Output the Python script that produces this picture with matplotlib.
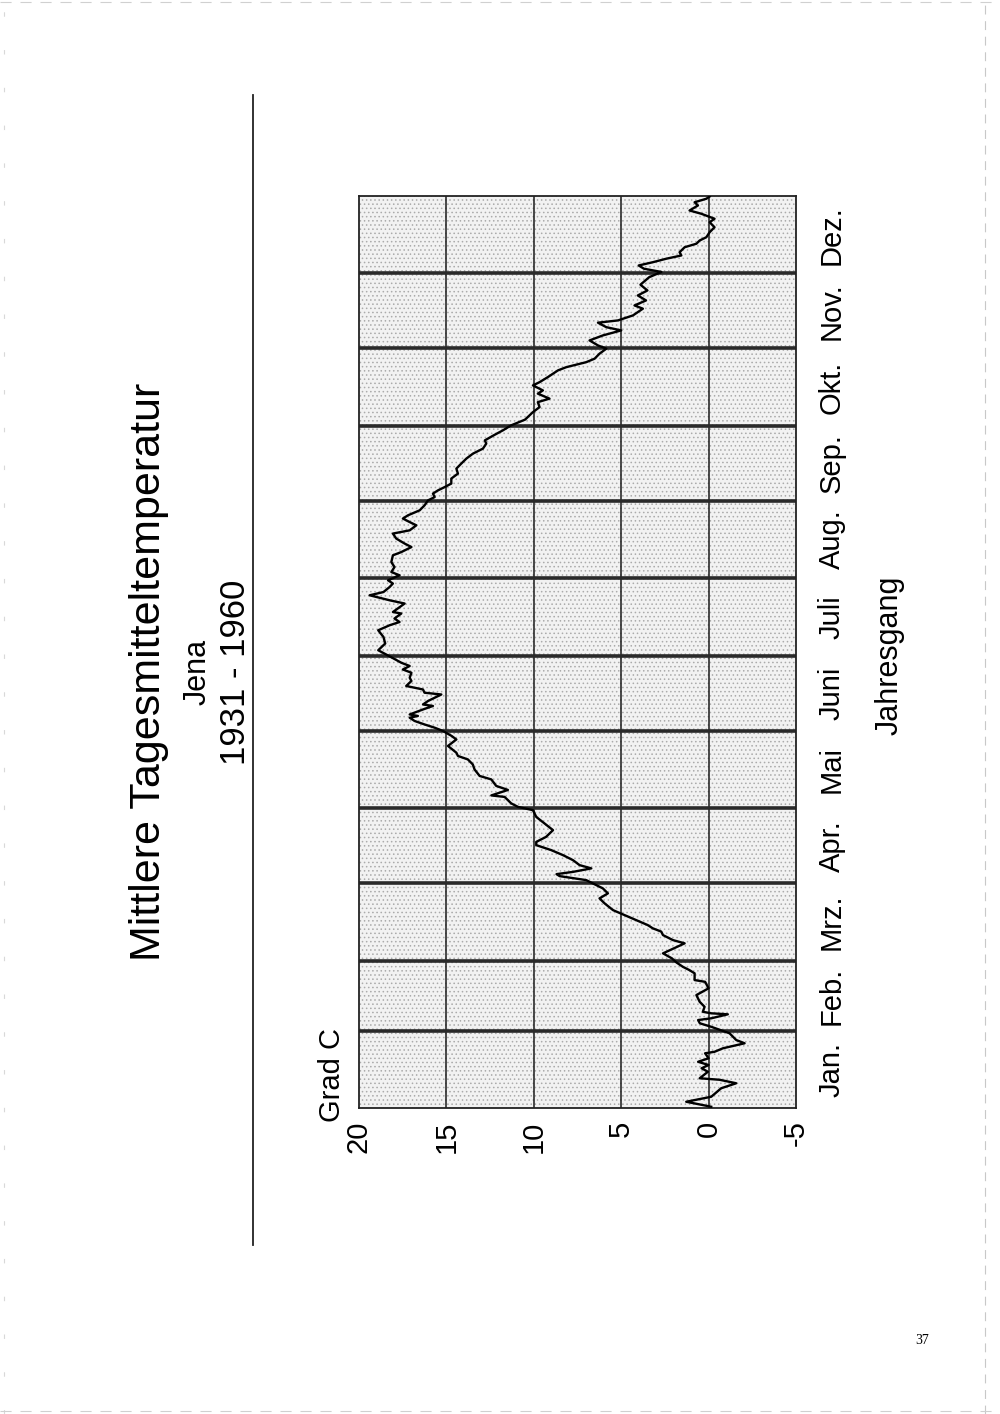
import numpy as np
import matplotlib
matplotlib.use('Agg')
import matplotlib.pyplot as plt
from matplotlib.patches import Rectangle
from matplotlib.lines import Line2D
from matplotlib.transforms import blended_transform_factory

# Tagesmittel Jena 1931-1960 (Tag im Jahr, Grad C)
day = [0.5, 2.5, 4.5, 7.9, 9.9, 11.3, 11.9, 14.5, 15.9, 17.2, 18.5, 19.9, 21.9, 22.5,
       23.9, 25.9, 27.2, 29.9, 32.5, 33.9, 35.2, 35.9, 37.5, 37.9, 38.5, 40.5, 42.5,
       45.2, 47.9, 50.5, 51.2, 53.9, 55.2, 56.5, 58.3, 59.9, 61.9, 62.5, 65.9, 67.2,
       69.2, 70.6, 71.9, 73.2, 75.2, 77.2, 79.2, 81.9, 83.9, 85.9, 87.9, 89.9, 91.2,
       92.8, 93.6, 94.5, 95.9, 97.2, 99.2, 101.2, 103.2, 105.2, 106.5, 108.5, 111.2,
       114.5, 116.5, 119.2, 120.5, 121.9, 124.5, 125.1, 127.3, 128.9, 131.5, 132.9,
       135.5, 137.5, 139.5, 140.9, 142.2, 144.9, 147.5, 148.9, 150.9, 152.2, 153.5,
       154.9, 156.2, 156.9, 157.5, 159.5, 160.9, 161.5, 162.9, 165.5, 166.2, 167.5,
       168.9, 170.9, 172.2, 174.2, 175.5, 176.9, 178.2, 180.2, 183.2, 185.9, 188.5,
       191.2, 193.2, 194.5, 195.9, 197.9, 198.5, 201.9, 203.2, 205.2, 206.5, 208.5,
       209.9, 211.2, 213.2, 214.5, 216.5, 218.5, 221.2, 222.5, 224.5, 225.9, 227.9,
       229.9, 231.2, 233.2, 234.5, 235.9, 237.2, 239.2, 241.2, 243.2, 244.5, 245.9,
       247.2, 248.5, 249.9, 251.9, 253.9, 255.9, 257.9, 259.9, 261.9, 263.9, 265.9,
       267.2, 269.2, 271.2, 273.2, 275.5, 278.5, 280.5, 282.5, 283.9, 285.9, 287.2,
       289.2, 290.5, 292.5, 295.2, 296.5, 298.5, 299.9, 301.9, 303.9, 305.2, 307.2,
       309.2, 311.2, 312.5, 314.3, 315.2, 317.2, 319.9, 321.2, 323.2, 325.2, 327.2,
       329.5, 332.5, 334.6, 335.9, 337.2, 338.5, 339.9, 341.2, 342.5, 344.5, 345.9,
       347.2, 348.5, 350.5, 352.5, 354.5, 355.9, 357.9, 359.2, 361.2, 362.5, 363.9,
       364.8]
temp = [-0.15, 1.28, -0.15, -0.72, -1.58, -0.63, 0.51, 0.04, 0.4, 0.0, 0.6, 0.0, 0.2, -0.34,
        -0.82, -2.06, -1.58, -1.2, -0.15, 0.5, 0.6, -0.15, -1.1, -0.15, 0.33, 0.23, 0.51,
        0.7, 0.0, 0.2, 0.8, 0.8, 1.1, 1.47, 1.85, 2.1, 2.61, 2.42, 1.37, 2.04,
        2.61, 2.71, 3.19, 3.48, 4.14, 4.81, 5.47, 5.95, 6.24, 5.76, 6.05, 6.62, 7.0,
        8.52, 8.7, 7.76, 6.71, 7.38, 7.76, 8.33, 9.0, 9.86, 9.86, 9.3, 8.9,
        9.5, 9.86, 10.05, 10.9, 11.29, 11.67, 12.43, 11.48, 12.15, 12.43, 13.1,
        13.39, 13.49, 13.77, 14.34, 14.43, 14.91, 14.43, 14.7, 15.2, 15.67, 16.25,
        16.82, 17.1, 16.63, 17.1, 16.34, 15.77, 16.34, 16.05, 15.29, 16.25, 16.34,
        17.3, 17.0, 17.1, 17.0, 17.49, 17.1, 17.58, 18.1, 18.9, 18.5, 18.6,
        18.9, 18.25, 17.68, 17.97, 17.58, 18.06, 17.39, 18.25, 19.39, 18.6, 18.25,
        18.06, 18.34, 17.68, 18.15, 17.97, 18.15, 18.06, 17.58, 17.0, 17.39, 17.87,
        18.06, 17.1, 16.72, 17.1, 17.49, 17.2, 16.53, 16.25, 16.05, 15.67, 15.77,
        15.48, 15.1, 14.72, 14.72, 14.34, 14.43, 14.15, 13.86, 13.48, 12.91, 12.72,
        12.8, 12.3, 11.77, 11.3, 10.5, 10.05, 9.67, 9.77, 9.1, 9.77, 9.48,
        10.05, 9.67, 9.2, 8.62, 8.14, 7.0, 6.52, 6.24, 5.85, 6.33, 6.81,
        6.05, 5.0, 5.85, 6.33, 5.19, 4.33, 3.76, 4.24, 3.58, 4.05, 3.5,
        3.9, 3.4, 2.7, 3.7, 4.0, 3.19, 2.42, 1.56, 1.66, 1.37, 0.7,
        0.51, 0.13, -0.06, -0.34, -0.06, -0.34, 0.42, 1.09, 0.61, 0.8, 0.13,
        -0.06]

months = ['Jan.', 'Feb.', 'Mrz.', 'Apr.', 'Mai', 'Juni', 'Juli', 'Aug.', 'Sep.', 'Okt.', 'Nov.', 'Dez.']
month_days = [31, 28, 31, 30, 31, 30, 31, 31, 30, 31, 30, 31]
temp_ticks = [20, 15, 10, 5, 0, -5]
temp_labels = ['20', '15', '10', '5', '0', '-5']

plt.rcParams['font.family'] = ['Liberation Sans', 'DejaVu Sans']
plt.rcParams['hatch.linewidth'] = 0.6

fig = plt.figure(figsize=(10, 14.14), dpi=100)
W, H = 1000, 1414

def fx(x):
    return x / W

def fy(y):
    return 1 - y / H

# Diagramm liegt gedreht auf der Seite: Temperatur waagrecht, Jahr senkrecht
ax = fig.add_axes([fx(359), fy(1108), fx(796) - fx(359), fy(196) - fy(1108)])
ax.set_xlim(20, -5)
ax.set_ylim(0, 365)
ax.set_facecolor('#f2f2f2')
ax.add_patch(Rectangle((0, 0), 1, 1, transform=ax.transAxes, facecolor='none',
                       edgecolor='#ababab', hatch='....', lw=0, zorder=0))

for t in temp_ticks[1:-1]:
    ax.axvline(t, color='#1a1a1a', lw=1.1, zorder=1)
bounds = np.cumsum(month_days)
for b in bounds[:-1]:
    ax.axhline(b, color='#2a2a2a', lw=2.6, zorder=1)

ax.plot(temp, day, color='black', lw=1.7, zorder=3)

for s in ax.spines.values():
    s.set_linewidth(1.3)
    s.set_color('#222222')

ax.set_xticks(temp_ticks)
ax.set_xticklabels(temp_labels, rotation=90, fontsize=21)
ax.set_yticks([])
ax.tick_params(axis='x', length=0, pad=9)

starts = np.concatenate([[0], bounds[:-1]])
mids = (starts + bounds) / 2
tr = blended_transform_factory(ax.transAxes, ax.transData)
for m, mid in zip(months, mids):
    ax.text((840 - 359) / 437, mid, m, transform=tr, rotation=90, fontsize=21,
            ha='center', va='baseline', rotation_mode='anchor')

kw = dict(rotation=90, ha='center', va='baseline', rotation_mode='anchor')
fig.text(fx(160), fy(672), 'Mittlere Tagesmitteltemperatur', fontsize=31, **kw)
fig.text(fx(206), fy(672), 'Jena', fontsize=22, **kw)
fig.text(fx(245), fy(672), '1931 - 1960', fontsize=25, **kw)
fig.text(fx(340), fy(1075), 'Grad C', fontsize=21, **kw)
fig.text(fx(898), fy(655), 'Jahresgang', fontsize=22, **kw)

fig.add_artist(Line2D([fx(253), fx(253)], [fy(95), fy(1245)], color='#222222', lw=1.3))

fig.text(fx(922), fy(1340), '37', fontsize=10, family='Liberation Serif', ha='center', va='center')

# Scanrand
fig.add_artist(Line2D([fx(985), fx(985)], [0, 1], color='#c8c8c8', lw=0.8, ls=(0, (8, 6))))
fig.add_artist(Line2D([fx(4), fx(4)], [0, 1], color='#d8d8d8', lw=0.8, ls=(0, (4, 30))))
fig.add_artist(Line2D([0, 1], [fy(2), fy(2)], color='#d0d0d0', lw=0.8, ls=(0, (10, 8))))
fig.add_artist(Line2D([0, 1], [fy(1411), fy(1411)], color='#d0d0d0', lw=0.8, ls=(0, (10, 8))))

fig.savefig('out.png', dpi=100)
